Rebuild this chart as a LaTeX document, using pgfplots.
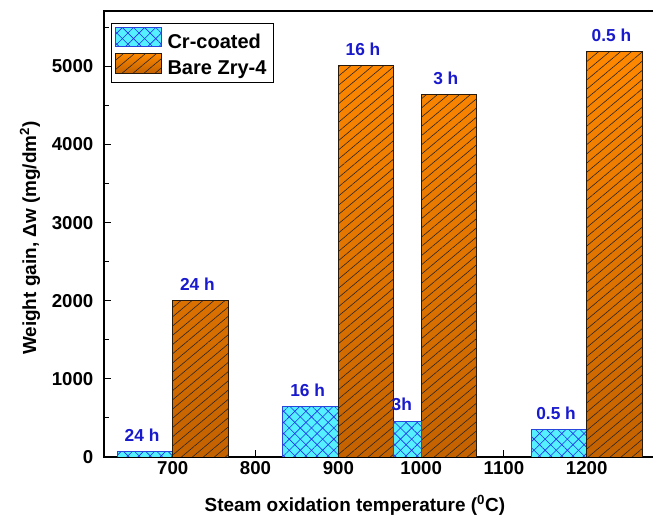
\documentclass[border=0pt]{standalone}
\usepackage{fontspec}
\setmainfont{Liberation Sans}
\usepackage{pgfplots}
\pgfplotsset{compat=1.18}
\usetikzlibrary{patterns.meta}
\definecolor{cyanfill}{RGB}{85,240,255}
\definecolor{hatchblue}{RGB}{30,50,230}
\definecolor{crborder}{RGB}{40,70,220}
\definecolor{orangetop}{RGB}{255,136,0}
\definecolor{orangebot}{RGB}{196,98,0}
\definecolor{labblue}{RGB}{25,25,205}
\begin{document}
\begin{tikzpicture}
\useasboundingbox (-78pt,-45pt) rectangle (411.75pt,342.75pt);
\begin{axis}[
  at={(0pt,0pt)}, anchor=south west,
  scale only axis, width=413.6pt, height=334.5pt,
  xmin=617, xmax=1283, ymin=0, ymax=5710,
  xtick={700,800,...,1200}, minor xtick={650,750,...,1250},
  ytick={0,1000,...,5000}, minor ytick={500,1500,...,5500},
  tick pos=left, tick align=inside,
  major tick length=5.5pt, minor tick length=3.5pt,
  axis line style={line width=1pt},
  tick style={line width=0.8pt, black},
  /pgf/number format/1000 sep={},
  /pgf/number format/assume math mode=true,
  tick label style={font=\bfseries\fontsize{14}{16}\selectfont},
  yticklabel style={xshift=-4.5pt},
  label style={font=\bfseries\fontsize{14.2}{16}\selectfont},
  xlabel={Steam oxidation temperature (\textsuperscript{0}C)},
  ylabel={Weight gain, Δw (mg/dm\textsuperscript{2})},
  xlabel style={at={(axis description cs:0.455,-0.1076)}, anchor=center},
  ylabel style={at={(axis description cs:-0.134,0.491)}, anchor=center, rotate=0},
  legend style={at={(axis description cs:0.0127,0.973)}, anchor=north west,
    draw=black, line width=0.6pt, font=\bfseries\fontsize{15}{17}\selectfont,
    inner xsep=3pt, inner ysep=2.5pt, row sep=0.5pt},
  legend cell align=left,
  legend image code/.code={\draw[#1] (0pt,-3.5pt) rectangle (34.5pt,11pt);},
  nodes near coords style={font=\bfseries\fontsize{13}{15}\selectfont, text=labblue, yshift=4pt},
]
\addplot[ybar, bar width=67, bar shift=-33.5, fill=cyanfill, draw=crborder, line width=0.6pt,
  postaction={pattern color=hatchblue, pattern={Lines[angle=45,distance=5.9pt,line width=0.45pt]}},
  postaction={pattern color=hatchblue, pattern={Lines[angle=-45,distance=5.9pt,line width=0.45pt]}},
  point meta=explicit symbolic, nodes near coords,
  every node near coord/.append style={xshift=-23pt}]
  coordinates {(700,70) [24 h] (900,645) [16 h] (1200,350) [0.5 h]};
\addlegendentry{\hspace{2pt}Cr-coated}
\addplot[ybar, bar width=67, bar shift=33.5,
  preaction={top color=orangetop, bottom color=orangebot},
  pattern color=black!85, pattern={Lines[angle=40,distance=5.3pt,line width=0.45pt]},
  draw=black!80!brown, line width=0.6pt,
  point meta=explicit symbolic, nodes near coords,
  every node near coord/.append style={xshift=18.5pt}]
  coordinates {(700,2000) [24 h] (900,5010) [16 h] (1000,4640) [3 h] (1200,5190) [0.5 h]};
\addlegendentry{\hspace{2pt}Bare Zry-4}
\addplot[ybar, bar width=34, bar shift=-17, fill=cyanfill, draw=crborder, line width=0.6pt,
  postaction={pattern color=hatchblue, pattern={Lines[angle=45,distance=5.9pt,line width=0.45pt]}},
  postaction={pattern color=hatchblue, pattern={Lines[angle=-45,distance=5.9pt,line width=0.45pt]}},
  point meta=explicit symbolic, nodes near coords, forget plot,
  every node near coord/.append style={xshift=-14.5pt}]
  coordinates {(1000,460) [3h]};
\end{axis}
\end{tikzpicture}
\end{document}
